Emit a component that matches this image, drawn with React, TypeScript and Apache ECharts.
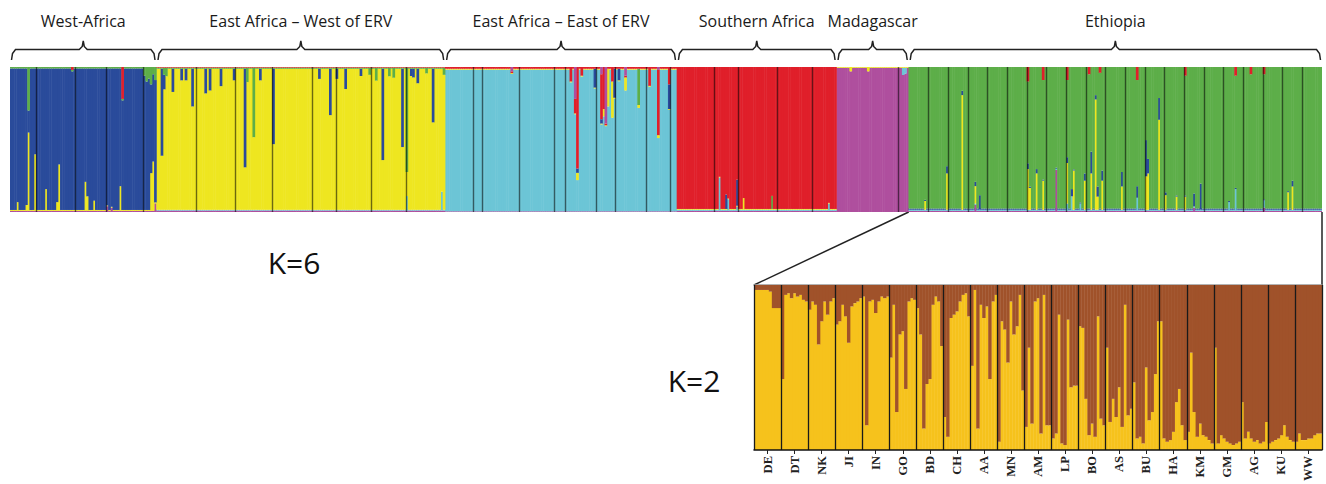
import React, { useEffect, useRef } from "react";
import * as echarts from "echarts";

// ---------- K=6 panel (top) ----------
const STACK_ORDER = ["magenta", "cyan", "yellow", "blue", "green", "red", "magentaTop"];
const CLUSTER_COLORS: Record<string, string> = {
  magenta: "#AF4F9E",
  cyan: "#6CC5D6",
  yellow: "#EEE620",
  blue: "#2A4B9B",
  green: "#5DAE49",
  red: "#E01F2A",
  magentaTop: "#AF4F9E",
};

const groupLabels = [
  "West-Africa",
  "East Africa – West of ERV",
  "East Africa – East of ERV",
  "Southern Africa",
  "Madagascar",
  "Ethiopia",
];
const groupMain = ["blue", "yellow", "cyan", "red", "magenta", "green"];

// individuals per population, per group
const westAfricaPops = [12, 18, 14, 17, 6];
const eastWestPops = [18, 18, 17, 18, 11, 16, 16, 18];
const eastEastPops = [13, 4, 17, 16, 5, 14, 9, 14, 11, 3];
const southernPops = [17, 11, 18, 16, 11];
const madagascarPops = [28, 5];
const ethiopiaPops = [9, 9, 9, 9, 9, 9, 9, 9, 9, 9, 9, 9, 9, 9, 9, 9, 9, 9, 9, 9, 9];

// thin background admixture per group
const westAfricaBg: Record<string, number> = { green: 0.01, magenta: 0.008, yellow: 0.006 };
const eastWestBg: Record<string, number> = { magenta: 0.01, cyan: 0.005, green: 0.008, red: 0.004 };
const eastEastBg: Record<string, number> = { magenta: 0.005, red: 0.012, yellow: 0.006 };
const southernBg: Record<string, number> = { magenta: 0.008, cyan: 0.008, yellow: 0.005 };
const madagascarBg: Record<string, number> = { yellow: 0.005 };
const ethiopiaBg: Record<string, number> = { magenta: 0.008, cyan: 0.008, blue: 0.008 };

// admixed individuals: [index within group, cluster, share]
type Spike = [number, string, number];
const westAfricaSpikes: Spike[] = [
  [3, "yellow", 0.06], [7, "yellow", 0.04], [8, "yellow", 0.54], [8, "green", 0.3],
  [11, "yellow", 0.39], [16, "yellow", 0.15], [21, "yellow", 0.06], [22, "yellow", 0.32],
  [28, "red", 0.02], [34, "yellow", 0.2], [35, "yellow", 0.1], [38, "yellow", 0.07],
  [44, "magenta", 0.04], [46, "magenta", 0.03], [50, "yellow", 0.17], [51, "red", 0.22],
  [61, "green", 0.06], [62, "green", 0.1], [63, "green", 0.08], [64, "yellow", 0.26],
  [64, "green", 0.12], [65, "yellow", 0.34], [65, "green", 0.05], [66, "magenta", 0.06],
  [66, "green", 0.09],
];
const eastWestSpikes: Spike[] = [
  [2, "blue", 0.6], [3, "green", 0.05], [3, "blue", 0.1], [4, "green", 0.06], [7, "blue", 0.16],
  [11, "blue", 0.08], [13, "blue", 0.08], [16, "blue", 0.26], [22, "blue", 0.17],
  [24, "blue", 0.15], [29, "blue", 0.12], [35, "blue", 0.08], [40, "blue", 0.68],
  [41, "green", 0.1], [44, "green", 0.48], [47, "blue", 0.08], [53, "blue", 0.52],
  [74, "blue", 0.07], [79, "blue", 0.32], [82, "blue", 0.07], [86, "blue", 0.14],
  [93, "blue", 0.05], [97, "green", 0.05], [100, "green", 0.09], [103, "blue", 0.63],
  [106, "green", 0.06], [108, "green", 0.07], [112, "blue", 0.54], [114, "green", 0.72],
  [114, "cyan", 0.1], [116, "blue", 0.05], [117, "blue", 0.06], [119, "blue", 0.1],
  [123, "green", 0.04], [126, "blue", 0.37], [130, "cyan", 0.13], [131, "green", 0.05],
];
const eastEastSpikes: Spike[] = [
  [30, "magentaTop", 0.03], [57, "red", 0.1], [59, "red", 0.1], [59, "magentaTop", 0.22],
  [60, "red", 0.7], [60, "blue", 0.03], [60, "yellow", 0.05], [62, "red", 0.06],
  [68, "blue", 0.13], [71, "red", 0.31], [71, "blue", 0.03], [71, "magentaTop", 0.05],
  [72, "red", 0.29], [72, "yellow", 0.05], [73, "magentaTop", 0.39], [74, "yellow", 0.26],
  [76, "red", 0.1], [76, "yellow", 0.25], [77, "blue", 0.2], [79, "blue", 0.08],
  [82, "magentaTop", 0.06], [82, "yellow", 0.09], [88, "green", 0.25], [88, "yellow", 0.02],
  [93, "red", 0.13], [97, "red", 0.45], [97, "magentaTop", 0.02], [97, "yellow", 0.02],
  [102, "red", 0.12], [102, "blue", 0.17],
];
const southernSpikes: Spike[] = [
  [19, "cyan", 0.23], [22, "blue", 0.1], [23, "cyan", 0.08], [27, "blue", 0.18],
  [27, "cyan", 0.03], [30, "yellow", 0.08], [43, "green", 0.09], [69, "cyan", 0.05],
];
const madagascarSpikes: Spike[] = [
  [6, "yellow", 0.03], [14, "yellow", 0.03], [30, "cyan", 0.05], [31, "cyan", 0.04],
];
const ethiopiaSpikes: Spike[] = [
  [7, "yellow", 0.06], [17, "yellow", 0.25], [17, "blue", 0.05], [24, "yellow", 0.79],
  [24, "blue", 0.03], [30, "yellow", 0.12], [30, "blue", 0.03], [30, "magenta", 0.05],
  [32, "blue", 0.1], [54, "yellow", 0.28], [54, "blue", 0.04], [54, "red", 0.1],
  [55, "yellow", 0.15], [58, "yellow", 0.25], [58, "blue", 0.03], [61, "yellow", 0.2],
  [61, "red", 0.09], [67, "magenta", 0.29], [72, "yellow", 0.28], [72, "blue", 0.04],
  [72, "cyan", 0.05], [72, "red", 0.09], [74, "blue", 0.05], [74, "cyan", 0.1],
  [75, "yellow", 0.27], [78, "cyan", 0.05], [80, "blue", 0.05], [80, "yellow", 0.2],
  [82, "red", 0.05], [83, "blue", 0.15], [83, "yellow", 0.25], [85, "blue", 0.03],
  [85, "yellow", 0.76], [86, "blue", 0.07], [86, "yellow", 0.09], [87, "red", 0.04],
  [88, "blue", 0.07], [88, "yellow", 0.2], [97, "blue", 0.1], [97, "yellow", 0.16],
  [104, "blue", 0.08], [104, "cyan", 0.09], [104, "red", 0.09], [108, "blue", 0.25],
  [108, "yellow", 0.23], [109, "blue", 0.1], [109, "yellow", 0.25], [114, "blue", 0.15],
  [114, "yellow", 0.62], [117, "blue", 0.02], [117, "yellow", 0.1], [122, "yellow", 0.09],
  [126, "yellow", 0.09], [126, "red", 0.06], [130, "blue", 0.09], [130, "magenta", 0.03],
  [133, "blue", 0.18], [146, "cyan", 0.06], [149, "cyan", 0.15], [149, "red", 0.06],
  [156, "red", 0.05], [162, "cyan", 0.05], [162, "magenta", 0.03], [162, "red", 0.05],
  [173, "yellow", 0.12], [175, "blue", 0.04], [175, "yellow", 0.16],
];

// ---------- K=2 panel (bottom, Ethiopian populations) ----------
const k2PopLabels = ["DE", "DT", "NK", "JI", "IN", "GO", "BD", "CH", "AA", "MN", "AM",
  "LP", "BO", "AS", "BU", "HA", "KM", "GM", "AG", "KU", "WW"];
// share of the brown cluster for each individual (drawn from the top)
const brownDE = [0.03, 0.03, 0.03, 0.03, 0.03, 0.04, 0.14, 0.14, 0.14];
const brownDT = [0.57, 0.06, 0.05, 0.08, 0.05, 0.07, 0.06, 0.09, 0.1];
const brownNK = [0.15, 0.1, 0.12, 0.36, 0.22, 0.1, 0.18, 0.1, 0.08];
const brownJI = [0.24, 0.22, 0.12, 0.19, 0.35, 0.13, 0.11, 0.1, 0.08];
const brownIN = [0.07, 0.85, 0.1, 0.09, 0.17, 0.1, 0.07, 0.08, 0.07];
const brownGO = [0.44, 0.12, 0.77, 0.3, 0.28, 0.63, 0.1, 0.08, 0.09];
const brownBD = [0.14, 0.3, 0.87, 0.6, 0.57, 0.12, 0.07, 0.1, 0.37];
const brownCH = [0.8, 0.92, 0.2, 0.18, 0.16, 0.1, 0.06, 0.05, 0.19];
const brownAA = [0.49, 0.03, 0.87, 0.12, 0.2, 0.13, 0.57, 0.1, 0.06];
const brownMN = [0.95, 0.22, 0.27, 0.47, 0.1, 0.3, 0.25, 0.06, 0.64];
const brownAM = [0.86, 0.38, 0.84, 0.1, 0.08, 0.9, 0.06, 0.85, 0.85];
const brownLP = [0.93, 0.9, 0.18, 0.96, 0.97, 0.21, 0.62, 0.61, 0.61];
const brownBO = [0.25, 0.26, 0.69, 0.91, 0.84, 0.92, 0.19, 0.81, 0.85];
const brownAS = [0.38, 0.83, 0.69, 0.8, 0.62, 0.86, 0.12, 0.79, 0.75];
const brownBU = [0.59, 0.93, 0.92, 0.96, 0.5, 0.82, 0.77, 0.54, 0.22];
const brownHA = [0.22, 0.93, 0.95, 0.94, 0.89, 0.71, 0.63, 0.85, 0.94];
const brownKM = [0.89, 0.41, 0.77, 0.92, 0.84, 0.91, 0.92, 0.94, 0.96];
const brownGM = [0.38, 0.96, 0.91, 0.93, 0.95, 0.96, 0.97, 0.96, 0.95];
const brownAG = [0.71, 0.93, 0.89, 0.93, 0.95, 0.94, 0.96, 0.95, 0.83];
const brownKU = [0.96, 0.95, 0.94, 0.93, 0.91, 0.85, 0.92, 0.94, 0.95];
const brownWW = [0.95, 0.9, 0.94, 0.94, 0.93, 0.93, 0.91, 0.9, 0.9];
const k2Brown = [brownDE, brownDT, brownNK, brownJI, brownIN, brownGO, brownBD, brownCH,
  brownAA, brownMN, brownAM, brownLP, brownBO, brownAS, brownBU, brownHA, brownKM,
  brownGM, brownAG, brownKU, brownWW];

// ---------- build ----------
const groupPops = [westAfricaPops, eastWestPops, eastEastPops, southernPops, madagascarPops, ethiopiaPops];
const groupBg = [westAfricaBg, eastWestBg, eastEastBg, southernBg, madagascarBg, ethiopiaBg];
const groupSpikes = [westAfricaSpikes, eastWestSpikes, eastEastSpikes, southernSpikes, madagascarSpikes, ethiopiaSpikes];

const k6Data: Record<string, number[]> = {};
STACK_ORDER.forEach((c) => (k6Data[c] = []));
const k6Dividers: number[] = [];
const groupBounds: [number, number][] = [];
let total = 0;
groupPops.forEach((pops, g) => {
  const n = pops.reduce((a, b) => a + b, 0);
  let c = total;
  pops.forEach((p, k) => {
    c += p;
    if (k < pops.length - 1) k6Dividers.push(c);
  });
  for (let i = 0; i < n; i++) {
    const v: Record<string, number> = { ...groupBg[g] };
    groupSpikes[g].filter((s) => s[0] === i).forEach((s) => (v[s[1]] = s[2]));
    v[groupMain[g]] = 0;
    const others = Object.values(v).reduce((a, b) => a + b, 0);
    v[groupMain[g]] = 1 - others;
    STACK_ORDER.forEach((cl) => k6Data[cl].push(v[cl] || 0));
  }
  groupBounds.push([total, total + n]);
  total += n;
});
const k6Categories = k6Data.blue.map((_, i) => String(i));

const k2BrownFlat = k2Brown.flat();
const k2YellowFlat = k2BrownFlat.map((b) => 1 - b);
const k2Categories = k2BrownFlat.map((_, i) => String(i));

const TOP = { left: 10, top: 67, width: 1312, height: 145 };
const BOT = { left: 754, top: 285, width: 568, height: 166 };

export default function App() {
  const ref = useRef<HTMLDivElement>(null);
  useEffect(() => {
    const chart = echarts.init(ref.current!, null, { renderer: "svg" });
    const option: any = {
      animation: false,
      backgroundColor: "#ffffff",
      grid: [
        { ...TOP, containLabel: false },
        { ...BOT, containLabel: false },
      ],
      xAxis: [
        { type: "category", gridIndex: 0, data: k6Categories, show: false, boundaryGap: true },
        { type: "value", gridIndex: 0, min: 0, max: total, show: false },
        { type: "category", gridIndex: 1, data: k2Categories, show: false, boundaryGap: true },
        {
          type: "category", gridIndex: 1, data: k2PopLabels, position: "bottom", z: 10,
          axisLine: { show: true, lineStyle: { color: "#111", width: 1.5 } },
          axisTick: { show: true, alignWithLabel: true, length: 4, lineStyle: { color: "#222", width: 1 } },
          axisLabel: {
            rotate: 90, margin: 6, color: "#222", fontFamily: "Liberation Serif",
            fontSize: 12.5, fontWeight: "bold", interval: 0,
          },
          splitLine: { show: true, lineStyle: { color: "#1a1a1a", width: 1.3 } },
        },
        {
          type: "category", gridIndex: 1, data: k2Categories, position: "top",
          axisLine: { show: true, lineStyle: { color: "#9a9a9a", width: 1.5 } },
          axisTick: { show: false }, axisLabel: { show: false },
        },
      ],
      yAxis: [
        { type: "value", gridIndex: 0, min: 0, max: 1, show: false },
        { type: "value", gridIndex: 1, min: 0, max: 1, show: false },
      ],
      series: [
        ...STACK_ORDER.map((cl) => ({
          type: "bar", name: cl, xAxisIndex: 0, yAxisIndex: 0, stack: "k6",
          data: k6Data[cl], barWidth: 2.7, silent: true,
          itemStyle: { color: CLUSTER_COLORS[cl] },
        })),
        {
          type: "line", xAxisIndex: 1, yAxisIndex: 0, data: [], silent: true, z: 5,
          markLine: {
            silent: true, symbol: ["none", "none"], label: { show: false },
            lineStyle: { color: "rgba(0,0,0,0.55)", width: 1.4, type: "solid" },
            data: k6Dividers.map((d) => ({ xAxis: d })),
          },
        },
        {
          type: "bar", name: "k2yellow", xAxisIndex: 2, yAxisIndex: 1, stack: "k2",
          data: k2YellowFlat, barWidth: 3.4, silent: true, itemStyle: { color: "#F6C21C" },
        },
        {
          type: "bar", name: "k2brown", xAxisIndex: 2, yAxisIndex: 1, stack: "k2",
          data: k2BrownFlat, barWidth: 3.4, silent: true, itemStyle: { color: "#A0522A" },
        },
      ],
    };
    chart.setOption(option);

    const px = (v: number) => chart.convertToPixel({ xAxisIndex: 1 }, v) as number;
    const graphics: any[] = [];
    const lineY = 49.5;
    groupBounds.forEach(([a, b], g) => {
      const x0 = px(a) + 1.5;
      const x1 = px(b) - 1.5;
      const cx = (px(a) + px(b)) / 2;
      graphics.push({
        type: "polyline", silent: true,
        shape: {
          points: [
            [x0, 60], [x0 + 1, 53.5], [x0 + 4, lineY], [cx - 4, lineY], [cx - 1, 46.5],
            [cx, 41], [cx + 1, 46.5], [cx + 4, lineY], [x1 - 4, lineY], [x1 - 1, 53.5], [x1, 60],
          ],
        },
        style: { stroke: "#222", lineWidth: 1.5, fill: null },
      });
      graphics.push({
        type: "text", silent: true, x: cx, y: 21,
        style: {
          text: groupLabels[g], fill: "#1a1a1a", font: '16px "Open Sans"',
          align: "center", verticalAlign: "middle", textAlign: "center", textVerticalAlign: "middle",
        },
      });
    });
    const ethStart = px(groupBounds[5][0]);
    const ethEnd = px(groupBounds[5][1]);
    const topBottom = TOP.top + TOP.height;
    graphics.push({
      type: "line", silent: true,
      shape: { x1: ethStart, y1: topBottom, x2: BOT.left, y2: BOT.top },
      style: { stroke: "#222", lineWidth: 1.5 },
    });
    graphics.push({
      type: "line", silent: true,
      shape: { x1: ethEnd, y1: topBottom, x2: BOT.left + BOT.width, y2: BOT.top },
      style: { stroke: "#222", lineWidth: 1.5 },
    });
    graphics.push({
      type: "text", silent: true, x: 294, y: 262,
      style: {
        text: "K=6", fill: "#111", font: '30px "Open Sans"',
        align: "center", verticalAlign: "middle", textAlign: "center", textVerticalAlign: "middle",
      },
    });
    graphics.push({
      type: "text", silent: true, x: 694, y: 380,
      style: {
        text: "K=2", fill: "#111", font: '30px "Open Sans"',
        align: "center", verticalAlign: "middle", textAlign: "center", textVerticalAlign: "middle",
      },
    });
    chart.setOption({ graphic: graphics });

    return () => chart.dispose();
  }, []);
  return (
    <div
      ref={ref}
      style={{ position: "absolute", left: 0, top: 0, width: 1326, height: 484 }}
    />
  );
}
